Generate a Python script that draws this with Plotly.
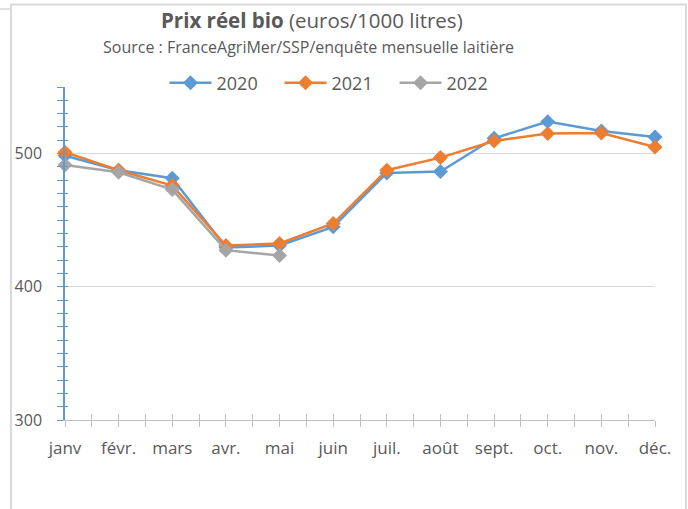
import plotly.graph_objects as go

months = ["janv", "févr.", "mars", "avr.", "mai", "juin", "juil.", "août", "sept.", "oct.", "nov.", "déc."]
prix_2020 = [498.5, 487.5, 481.5, 429.5, 431, 445, 485.5, 486.5, 511.5, 524, 517, 512.5]
prix_2021 = [501, 487.5, 476, 431, 432.5, 447.5, 487.5, 497, 509.5, 515, 515.5, 505]
prix_2022 = [491.5, 486, 473, 427.5, 423.5]

series = [("2020", prix_2020, "#5B9BD5"), ("2021", prix_2021, "#ED7D31"), ("2022", prix_2022, "#A5A5A5")]

FONT = "Open Sans, sans-serif"
TXT = "#595959"

# plot area in pixels
L, R, T, B = 65, 655, 87, 420
W, H = 688, 509


def px(xp):
    return (xp - L) / (R - L)


def py(yp):
    return (B - yp) / (B - T)


fig = go.Figure()
for name, vals, col in series:
    fig.add_trace(go.Scatter(
        x=list(range(len(vals))), y=vals, name=name, mode="lines+markers",
        line=dict(color=col, width=2.5),
        marker=dict(symbol="diamond", size=11.5, color=col),
        cliponaxis=False,
    ))
# empty helper trace so the overlay axes (inner half of crossing ticks) get drawn
fig.add_trace(go.Scatter(x=[None], y=[None], xaxis="x2", yaxis="y2", showlegend=False, hoverinfo="skip"))

fig.update_layout(
    width=W, height=H,
    margin=dict(l=L, r=W - R, t=T, b=H - B),
    paper_bgcolor="white", plot_bgcolor="white",
    font=dict(family=FONT, color=TXT, size=15),
    showlegend=True,
    legend=dict(orientation="h", x=px(337), xanchor="center", y=py(83), yanchor="middle",
                font=dict(size=18, color=TXT), itemwidth=42, entrywidth=58, tracegroupgap=0),
    xaxis=dict(
        range=[0, 11], tickmode="array", tickvals=list(range(12)), ticktext=months,
        showgrid=False, zeroline=False, showline=True, linecolor="#BFBFBF", linewidth=1,
        ticks="outside", ticklen=6, tickcolor="#BFBFBF",
        minor=dict(dtick=0.5, tick0=0, ticks="outside", ticklen=6, tickcolor="#BFBFBF", showgrid=False),
        ticklabelstandoff=7, tickfont=dict(size=17, color=TXT),
    ),
    xaxis2=dict(
        overlaying="x", range=[0, 11], tickmode="array", tickvals=list(range(12)),
        showticklabels=False, showgrid=False, zeroline=False, showline=False,
        ticks="inside", ticklen=6, tickcolor="#BFBFBF", side="bottom",
        minor=dict(dtick=0.5, tick0=0, ticks="inside", ticklen=6, tickcolor="#BFBFBF", showgrid=False),
    ),
    yaxis=dict(
        range=[300, 550], tick0=300, dtick=100,
        showgrid=True, gridcolor="#D9D9D9", gridwidth=1, zeroline=False,
        showline=True, linecolor="#5B9BD5", linewidth=1.5,
        ticks="outside", ticklen=6, tickcolor="#5B9BD5",
        minor=dict(dtick=10, tick0=300, ticks="outside", ticklen=6, tickcolor="#5B9BD5", showgrid=False),
        ticklabelstandoff=12, tickfont=dict(size=16, color=TXT),
    ),
    yaxis2=dict(
        overlaying="y", range=[300, 550], tick0=300, dtick=100,
        showticklabels=False, showgrid=False, zeroline=False, showline=False,
        ticks="inside", ticklen=3, tickcolor="#5B9BD5", side="left",
        minor=dict(dtick=10, tick0=300, ticks="inside", ticklen=3, tickcolor="#5B9BD5", showgrid=False),
    ),
    annotations=[
        dict(text="<b>Prix réel bio</b> (euros/1000 litres)", xref="paper", yref="paper",
             x=px(312), y=py(20), xanchor="center", yanchor="middle",
             showarrow=False, font=dict(size=20.5, color=TXT, family=FONT)),
        dict(text="Source : FranceAgriMer/SSP/enquête mensuelle laitière", xref="paper", yref="paper",
             x=px(308), y=py(47), xanchor="center", yanchor="middle",
             showarrow=False, font=dict(size=16, color=TXT, family=FONT)),
    ],
    shapes=[
        dict(type="rect", xref="paper", yref="paper",
             x0=px(11), x1=px(686), y0=py(515), y1=py(4.5),
             line=dict(color="#D9D9D9", width=2), fillcolor="rgba(0,0,0,0)", layer="below"),
        dict(type="line", xref="paper", yref="paper",
             x0=px(0), x1=px(10), y0=py(9), y1=py(9),
             line=dict(color="#D9D9D9", width=1.5), layer="below"),
    ],
)

fig.write_html("out.html", config={"displayModeBar": False},
               post_script="document.body.style.margin='0';")
